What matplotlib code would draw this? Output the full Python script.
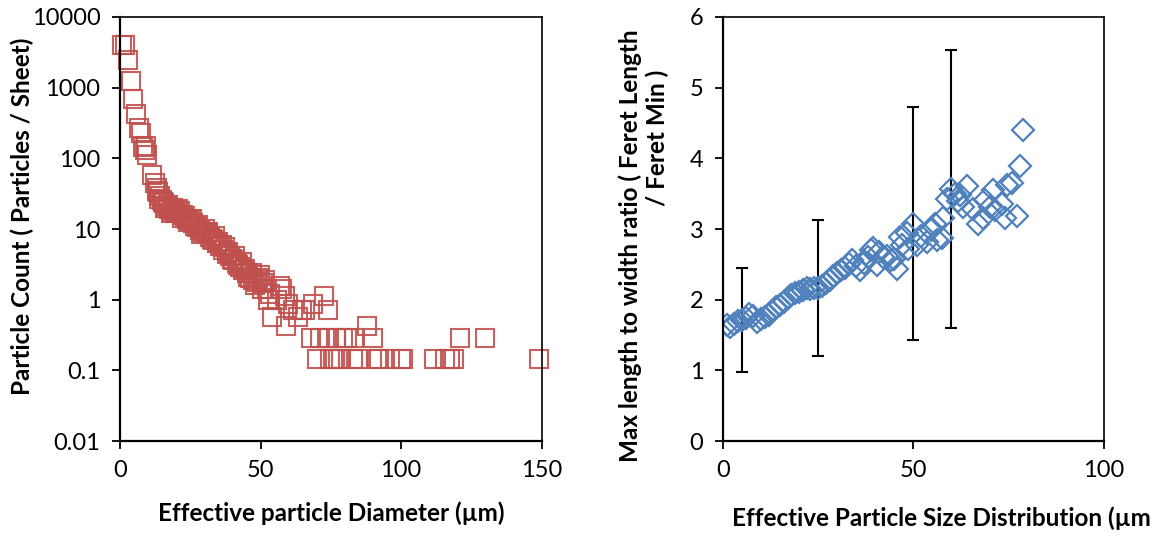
import numpy as np
import matplotlib
matplotlib.use('Agg')
import matplotlib.pyplot as plt

plt.rcParams['font.family'] = ['Lato', 'DejaVu Sans']

# left panel: particle count per sheet vs effective diameter
diam = [0.8, 1.9, 2.7, 3.8, 4.7, 5.7, 6.8, 7.5, 8.1, 8.8, 9.2, 9.7, 11.5, 12.4,
        13.0, 13.3, 13.6, 14.0, 14.2, 14.8, 15.2, 15.6, 16.0, 16.6, 17.0, 17.4,
        18.0, 18.4, 19.0, 19.6, 20.0, 20.8, 21.3, 22.0, 22.5, 23.2, 23.7, 24.3,
        24.9, 25.5, 26.1, 26.7, 27.3, 27.9, 28.5, 29.0, 29.6, 30.2, 30.8, 31.4,
        32.0, 32.6, 33.2, 33.8, 34.4, 35.0, 35.6, 36.2, 36.8, 37.4, 37.9, 38.5,
        39.1, 39.7, 40.3, 40.9, 41.5, 42.1, 42.7, 43.3, 43.9, 44.5, 45.1, 45.7,
        46.2, 46.8, 47.4, 48.0, 48.6, 49.2, 49.8, 50.4, 51.0, 51.6, 52.2, 52.8,
        53.4, 54.0, 55.7, 56.9, 57.5, 58.7, 58.9, 59.9, 61.7, 63.4, 64.6, 65.8,
        67.8, 68.8, 70.0, 71.1, 72.6, 73.6, 73.9, 74.7, 75.8, 76.8, 77.7, 78.6,
        79.3, 80.6, 83.0, 83.2, 84.8, 87.8, 90.0, 91.5, 92.1, 96.0, 100.0, 100.8,
        111.7, 115.6, 117.4, 118.9, 121.0, 129.8, 149.0]
count = [4000, 4000, 2500, 1260, 700, 420, 270, 230, 146, 131, 150, 111, 59, 45,
         38, 35, 33, 27, 29, 26, 24, 23, 20, 21, 22, 19,
         17, 18, 20, 18.6, 17, 19, 18, 14.5, 16, 15.5, 14, 12.5,
         13.4, 14, 12, 11, 10.8, 11.5, 9.7, 8.5, 9.2, 10, 8.7, 9,
         7.8, 7.2, 7.0, 8, 6.3, 6.5, 5.7, 6, 5.1, 5.5, 4.5, 4.8,
         4.1, 3.8, 3.6, 4.2, 3.3, 3.1, 2.9, 3.4, 2.6, 2.7, 2.4, 2.1,
         2.0, 2.4, 1.9, 1.6, 1.8, 2.0, 2.2, 1.4, 1.7, 1.9, 1.4, 1.0,
         1.2, 0.571, 1.0, 1.57, 1.43, 1.14, 0.429, 0.857, 0.714, 0.571, 0.714, 0.714,
         0.286, 0.857, 0.143, 0.286, 1.14, 0.286, 0.714, 0.143, 0.143, 0.286, 0.143, 0.143,
         0.286, 0.286, 0.143, 0.286, 0.143, 0.429, 0.286, 0.143, 0.143, 0.143, 0.143, 0.143,
         0.143, 0.143, 0.143, 0.143, 0.286, 0.286, 0.143]

# right panel: aspect ratio vs effective size
size = [1, 2, 3, 4, 5, 6, 7, 8, 9, 10, 11, 12, 13, 14, 15, 16, 17, 18, 19, 20,
        21, 22, 23, 24, 25, 26, 27, 28, 29, 30, 31, 32, 33, 34, 35, 36, 37, 38,
        39, 39.5, 40.5, 41, 42, 43, 44, 44.8, 45.6, 46.5, 47, 48.3, 48.5, 50, 51,
        52, 53.5, 54.5, 55.7, 56.1, 57.4, 57.9, 58.7, 60, 60.9, 61.8, 62.2, 63.1,
        64, 65.7, 67, 68.3, 68.8, 70.1, 71, 71.4, 73.2, 74, 74.5, 75.8, 77.1, 78,
        78.8]
ratio = [1.64, 1.62, 1.66, 1.70, 1.71, 1.74, 1.80, 1.77, 1.69, 1.72, 1.76, 1.78,
         1.84, 1.90, 1.93, 1.97, 2.02, 2.06, 2.09, 2.11, 2.14, 2.16, 2.15, 2.17,
         2.16, 2.20, 2.24, 2.28, 2.33, 2.38, 2.42, 2.45, 2.50, 2.56, 2.48, 2.42,
         2.52, 2.60, 2.70, 2.73, 2.49, 2.68, 2.61, 2.62, 2.56, 2.58, 2.44, 2.89,
         2.77, 2.94, 2.72, 3.07, 2.78, 2.90, 2.82, 2.98, 3.07, 2.84, 2.87, 3.16,
         3.43, 3.57, 3.50, 3.40, 3.48, 3.31, 3.61, 3.28, 3.07, 3.16, 3.41, 3.31,
         3.55, 3.27, 3.36, 3.16, 3.62, 3.65, 3.18, 3.89, 4.40]

# error bars (mean +/- spread)
err_x = [5, 25, 50, 60]
err_mean = [1.71, 2.165, 3.075, 3.565]
err_half = [0.74, 0.965, 1.645, 1.965]

red = '#C0504D'
blue = '#4F81BD'
fs = 17
lfs = 17.5

fig = plt.figure(figsize=(11.68, 5.36), dpi=100)
ax1 = fig.add_axes([0.1027, 0.1772, 0.3611, 0.7911])
ax2 = fig.add_axes([0.6188, 0.1772, 0.3264, 0.7911])

ax1.plot(diam, count, 's', mfc='none', mec=red, ms=13.5, mew=1.5, alpha=0.9, clip_on=False)
ax1.set_yscale('log')
ax1.set_ylim(0.01, 10000)
ax1.set_xlim(0, 150)
ax1.set_xticks([0, 50, 100, 150])
ax1.set_yticks([0.01, 0.1, 1, 10, 100, 1000, 10000])
ax1.set_yticklabels(['0.01', '0.1', '1', '10', '100', '1000', '10000'])
ax1.minorticks_off()
ax1.set_xlabel('Effective particle Diameter (µm)', fontsize=lfs, fontweight='bold', labelpad=14)

ax2.errorbar(err_x, err_mean, yerr=err_half, fmt='none', ecolor='black', elinewidth=1.5,
             capsize=4.3, capthick=1.5, zorder=1)
ax2.plot(size, ratio, 'D', mfc='none', mec=blue, ms=11.5, mew=1.6, zorder=2)
ax2.set_xlim(0, 100)
ax2.set_ylim(0, 6)
ax2.set_xticks([0, 50, 100])
ax2.set_yticks(range(7))

for ax in (ax1, ax2):
    for side in ax.spines:
        ax.spines[side].set_color('black')
        ax.spines[side].set_linewidth(1.2)
    ax.spines['left'].set_linewidth(1.6)
    ax.spines['bottom'].set_linewidth(1.6)
    ax.tick_params(direction='out', length=6, width=1.3, labelsize=fs, pad=8)

fig.text(22 / 1168, 1 - 216 / 536, 'Particle Count ( Particles / Sheet)',
         rotation=90, ha='center', va='center', fontsize=lfs, fontweight='bold')
fig.text(630 / 1168, 1 - 246 / 536, 'Max length to width ratio ( Feret Length',
         rotation=90, ha='center', va='center', fontsize=lfs, fontweight='bold')
fig.text(657 / 1168, 1 - 138 / 536, '/ Feret Min )',
         rotation=90, ha='center', va='center', fontsize=lfs, fontweight='bold')
fig.text(732 / 1168, 1 - 518 / 536, 'Effective Particle Size Distribution (µm',
         ha='left', va='center', fontsize=lfs, fontweight='bold')

fig.savefig('out.png', dpi=100)
